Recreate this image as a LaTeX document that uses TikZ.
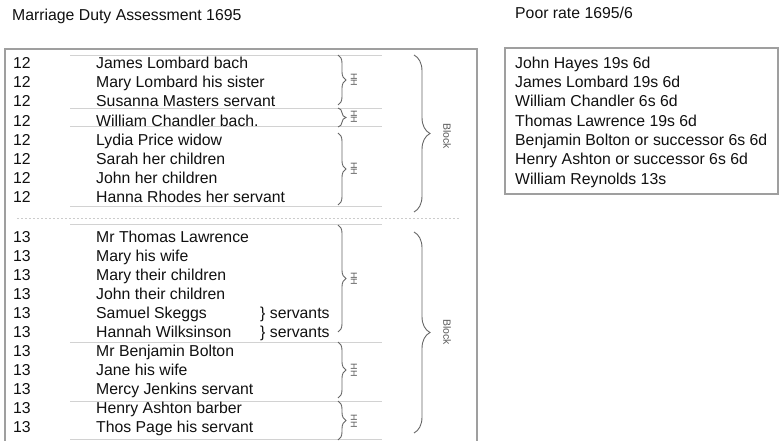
\documentclass[tikz,border=0pt]{standalone}
\usepackage{fontspec}
\setmainfont{Liberation Sans}
\usetikzlibrary{decorations.pathreplacing}
\definecolor{ink}{HTML}{101010}
\tikzstyle{txt} = [anchor=west, inner sep=0pt, text height=11.3pt, text depth=0pt, text=ink, font={\fontsize{15.8}{19}\selectfont}]
\tikzstyle{frame} = [draw=gray!75, line width=1.1pt]
\tikzstyle{sep} = [draw=gray!35, line width=1pt]
\tikzstyle{hh} = [draw=black!60, line width=0.9pt, decorate, decoration={brace,amplitude=8pt}]
\tikzstyle{blk} = [draw=black!60, line width=0.9pt, decorate, decoration={brace,amplitude=16pt}]
\tikzstyle{tag} = [rotate=-90, inner sep=0pt, text=black!65, font={\fontsize{9}{10}\selectfont}]
\tikzstyle{blocktag} = [rotate=-90, inner sep=0pt, text=black!65, font={\fontsize{10.5}{12}\selectfont}]

\begin{document}
\begin{tikzpicture}[x=1pt,y=-1pt]
    \useasboundingbox (0,0) rectangle (782,441);
    \node[txt](title) at (12,15){Marriage Duty Assessment 1695};
    \node[txt](poortitle) at (515,13){Poor rate 1695/6};
    % assessment frame
    \draw[frame] (5,445) -- (5,49) -- (477,49) -- (477,445);
    \draw[sep] (70,56) -- (382,56);
    \draw[sep] (70,109) -- (382,109);
    \draw[sep] (70,127) -- (382,127);
    \draw[sep] (70,206) -- (382,206);
    \draw[sep] (70,224) -- (382,224);
    \draw[sep] (70,342) -- (382,342);
    \draw[sep] (70,401) -- (382,401);
    \draw[sep] (70,439) -- (382,439);
    \draw[gray!40, line width=1pt, dash pattern=on 2pt off 2pt] (17,218) -- (460,218);
    % twelve
    \node[txt](r1) at (13,63){12};   \node[txt](p1) at (96,63){James Lombard bach};
    \node[txt](r2) at (13,82){12};   \node[txt](p2) at (96,82){Mary Lombard his sister};
    \node[txt](r3) at (13,101){12};  \node[txt](p3) at (96,101){Susanna Masters servant};
    \node[txt](r4) at (13,121){12};  \node[txt](p4) at (96,121){William Chandler bach.};
    \node[txt](r5) at (13,140){12};  \node[txt](p5) at (96,140){Lydia Price widow};
    \node[txt](r6) at (13,159){12};  \node[txt](p6) at (96,159){Sarah her children};
    \node[txt](r7) at (13,178){12};  \node[txt](p7) at (96,178){John her children};
    \node[txt](r8) at (13,197){12};  \node[txt](p8) at (96,197){Hanna Rhodes her servant};
    % thirteen
    \node[txt](r9) at (13,237){13};  \node[txt](p9) at (96,237){Mr Thomas Lawrence};
    \node[txt](r10) at (13,256){13}; \node[txt](p10) at (96,256){Mary his wife};
    \node[txt](r11) at (13,275){13}; \node[txt](p11) at (96,275){Mary their children};
    \node[txt](r12) at (13,294){13}; \node[txt](p12) at (96,294){John their children};
    \node[txt](r13) at (13,313){13}; \node[txt](p13) at (96,313){Samuel Skeggs};
    \node[txt](r14) at (13,332){13}; \node[txt](p14) at (96,332){Hannah Wilksinson};
    \node[txt](r15) at (13,351){13}; \node[txt](p15) at (96,351){Mr Benjamin Bolton};
    \node[txt](r16) at (13,370){13}; \node[txt](p16) at (96,370){Jane his wife};
    \node[txt](r17) at (13,389){13}; \node[txt](p17) at (96,389){Mercy Jenkins servant};
    \node[txt](r18) at (13,408){13}; \node[txt](p18) at (96,408){Henry Ashton barber};
    \node[txt](r19) at (13,427){13}; \node[txt](p19) at (96,427){Thos Page his servant};
    \node[txt](s13) at (260,313){\} servants};
    \node[txt](s14) at (260,332){\} servants};
    % households
    \draw[hh] (338,55) -- (338,105);
    \draw[hh] (338,108) -- (338,127);
    \draw[hh] (338,133) -- (338,205);
    \draw[hh] (338,225) -- (338,332);
    \draw[hh] (338,342) -- (338,398);
    \draw[hh] (338,401) -- (338,440);
    \node[tag](h1) at (354,80){HH};
    \node[tag](h2) at (354,117){HH};
    \node[tag](h3) at (354,169){HH};
    \node[tag](h4) at (354,279){HH};
    \node[tag](h5) at (354,370){HH};
    \node[tag](h6) at (354,421){HH};
    \draw[blk] (414,55) -- (414,212);
    \draw[blk] (414,232) -- (414,433);
    \node[blocktag](b1) at (447,136){Block};
    \node[blocktag](b2) at (447,332){Block};
    % poor rate
    \draw[frame] (505,48) rectangle (778,194);
    \node[txt](q1) at (515,63){John Hayes 19s 6d};
    \node[txt](q2) at (515,82){James Lombard 19s 6d};
    \node[txt](q3) at (515,101){William Chandler 6s 6d};
    \node[txt](q4) at (515,121){Thomas Lawrence 19s 6d};
    \node[txt](q5) at (515,140){Benjamin Bolton or successor 6s 6d};
    \node[txt](q6) at (515,159){Henry Ashton or successor 6s 6d};
    \node[txt](q7) at (515,179){William Reynolds 13s};
  \end{tikzpicture}
\end{document}
